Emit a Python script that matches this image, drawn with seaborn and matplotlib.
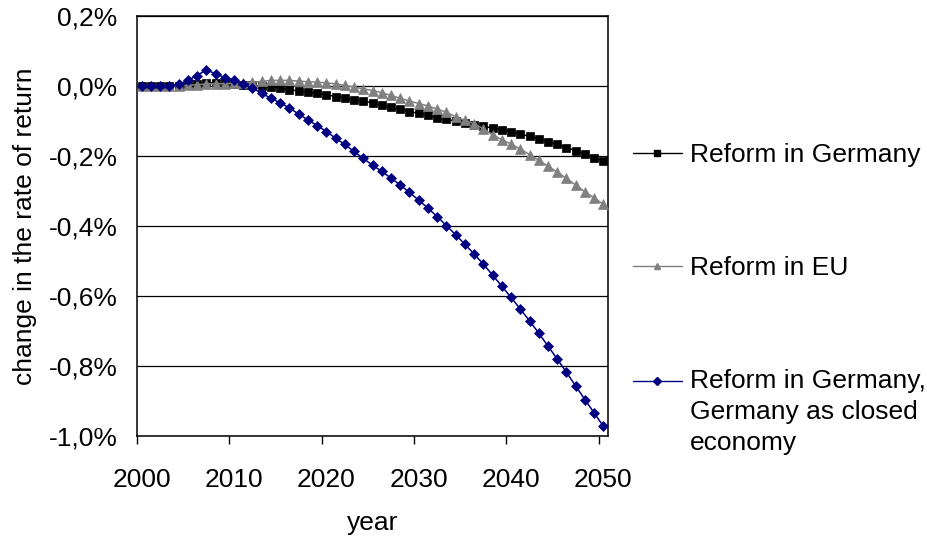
import numpy as np
import pandas as pd
import matplotlib
matplotlib.use("Agg")
import matplotlib.pyplot as plt
import seaborn as sns
from matplotlib.lines import Line2D

# ---------------- data ----------------
years = list(range(2000, 2051))

reform_germany = [
    0.000, 0.000, 0.000, 0.000, 0.000, 0.003, 0.006, 0.009, 0.010, 0.009,
    0.007, 0.004, 0.002, 0.000, -0.003, -0.005, -0.011, -0.014, -0.017, -0.021,
    -0.025, -0.030, -0.034, -0.039, -0.043, -0.048, -0.055, -0.061, -0.067, -0.073,
    -0.078, -0.084, -0.090, -0.095, -0.100, -0.105, -0.110, -0.115, -0.120, -0.125,
    -0.131, -0.137, -0.144, -0.151, -0.159, -0.167, -0.176, -0.185, -0.195, -0.205,
    -0.214,
]

reform_eu = [
    0.000, 0.000, 0.000, 0.000, 0.000, 0.002, 0.004, 0.006, 0.007, 0.007,
    0.008, 0.010, 0.011, 0.013, 0.016, 0.016, 0.016, 0.014, 0.012, 0.011,
    0.009, 0.006, 0.002, -0.003, -0.008, -0.013, -0.019, -0.027, -0.035, -0.043,
    -0.050, -0.057, -0.066, -0.075, -0.088, -0.098, -0.108, -0.122, -0.140, -0.153,
    -0.166, -0.180, -0.196, -0.212, -0.229, -0.246, -0.264, -0.283, -0.302, -0.320,
    -0.338,
]

reform_closed = [
    0.000, 0.000, 0.000, 0.000, 0.005, 0.016, 0.030, 0.046, 0.035, 0.024,
    0.016, 0.006, -0.006, -0.021, -0.035, -0.048, -0.063, -0.080, -0.097, -0.113,
    -0.130, -0.149, -0.167, -0.187, -0.207, -0.226, -0.244, -0.263, -0.283, -0.304,
    -0.326, -0.349, -0.373, -0.399, -0.425, -0.452, -0.480, -0.509, -0.540, -0.572,
    -0.604, -0.637, -0.671, -0.706, -0.743, -0.780, -0.818, -0.857, -0.896, -0.934,
    -0.972,
]

series_names = [
    "Reform in Germany",
    "Reform in EU",
    "Reform in Germany,\nGermany as closed\neconomy",
]
y_ticks = [-1.0, -0.8, -0.6, -0.4, -0.2, 0.0, 0.2]
y_tick_labels = ["-1,0%", "-0,8%", "-0,6%", "-0,4%", "-0,2%", "0,0%", "0,2%"]
x_ticks = [2000, 2010, 2020, 2030, 2040, 2050]
x_tick_labels = ["2000", "2010", "2020", "2030", "2040", "2050"]

# ---------------- style ----------------
sns.set_style("white")
plt.rcParams["font.family"] = ["Liberation Sans", "DejaVu Sans"]
plt.rcParams["text.color"] = "black"
plt.rcParams["axes.labelcolor"] = "black"
plt.rcParams["xtick.color"] = "black"
plt.rcParams["ytick.color"] = "black"
FS = 19

W, H = 927, 538
fig = plt.figure(figsize=(W / 100, H / 100), dpi=100)
L, R, T, B = 137, 608, 16, 436
ax = fig.add_axes([L / W, 1 - B / H, (R - L) / W, (B - T) / H])

styles = [
    dict(color="#000000", marker="s", markersize=5.4),
    dict(color="#808080", marker="^", markersize=6.8),
    dict(color="#000080", marker="D", markersize=5.2),
]
data_list = [reform_germany, reform_eu, reform_closed]

order = [1, 0, 2]
for i in order:
    st = styles[i]
    sns.lineplot(
        x=years, y=data_list[i], ax=ax, color=st["color"], marker=st["marker"],
        markersize=st["markersize"], markeredgecolor=st["color"],
        markeredgewidth=0.5, linewidth=1.1, label=series_names[i],
        legend=False, zorder=3 + i,
    )

# category-style x axis: labels centred on years, tick marks between categories
ax.set_xlim(years[0] - 0.5, years[-1] + 0.5)
ax.set_ylim(-1.0, 0.2)
ax.set_yticks(y_ticks)
ax.set_yticklabels(y_tick_labels, fontsize=FS)
ax.set_xticks(x_ticks)
ax.set_xticklabels(x_tick_labels, fontsize=FS)
ax.set_xticks([t - 0.5 for t in x_ticks], minor=True)

ax.yaxis.grid(True, color="black", linewidth=0.9)
ax.xaxis.grid(False)
for s in ax.spines.values():
    s.set_color("black")
    s.set_linewidth(1.1)

ax.tick_params(axis="x", which="major", length=0, pad=23)
ax.tick_params(axis="x", which="minor", direction="out", length=6, width=1,
               color="black", bottom=True)
ax.tick_params(axis="y", direction="out", length=5, width=1, color="black", pad=9)

ax.set_xlabel("year", fontsize=FS, labelpad=14)
ax.set_ylabel("change in the rate of return", fontsize=FS, labelpad=8)

# legend
leg_handles = [
    Line2D([], [], color=styles[i]["color"], marker=styles[i]["marker"],
           markersize=styles[i]["markersize"] * 0.72, markeredgecolor=styles[i]["color"],
           linewidth=1.0)
    for i in range(3)
]
leg = fig.legend(
    leg_handles, series_names, loc="upper left",
    bbox_to_anchor=(633 / W, 1 - 143 / H), frameon=False, fontsize=FS,
    handlelength=1.85, handletextpad=0.3, labelspacing=3.38, borderpad=0,
    borderaxespad=0,
)
for t in leg.get_texts():
    t.set_linespacing(1.36)
# align the multi-line entry's handle with its first text line
pitch_pt = 31.3 * 72 / 100
h3 = leg.legend_handles[2]
h3.set_ydata(np.asarray(h3.get_ydata(), dtype=float) + pitch_pt)

fig.savefig("out.png", dpi=100)
